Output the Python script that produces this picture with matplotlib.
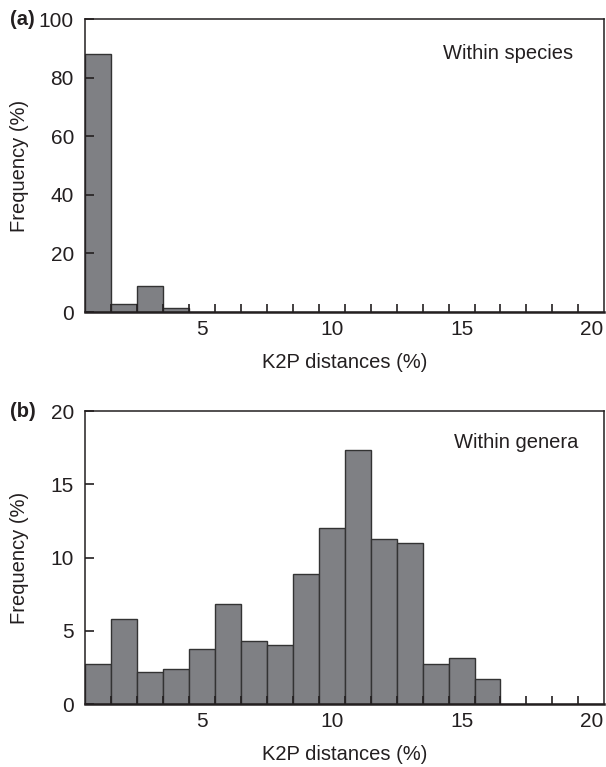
import numpy as np
import matplotlib.pyplot as plt
from matplotlib.ticker import FixedLocator

plt.rcParams['font.family'] = ['Liberation Sans', 'DejaVu Sans']

# Distance classes (bin centres, K2P %) and frequencies
dist = list(range(1, 21))
freq_species = [88, 2.7, 8.8, 1.2, 0, 0, 0, 0, 0, 0, 0, 0, 0, 0, 0, 0, 0, 0, 0, 0]
freq_genera = [2.72, 5.79, 2.2, 2.41, 3.75, 6.83, 4.31, 4.0, 8.85, 12.03,
               17.32, 11.24, 11.01, 2.72, 3.16, 1.70, 0, 0, 0, 0]

panels = [
    ("(a)", "Within species", freq_species, 100, [0, 20, 40, 60, 80, 100], (0.815, 0.884)),
    ("(b)", "Within genera", freq_genera, 20, [0, 5, 10, 15, 20], (0.83, 0.894)),
]
boxes = [[0.1403, 0.5932, 0.857, 0.382], [0.1403, 0.0821, 0.857, 0.382]]

ink = "#231f20"
fig = plt.figure(figsize=(6.06, 7.67), dpi=100)

for (tag, title, freq, ymax, yt, tpos), box in zip(panels, boxes):
    ax = fig.add_axes(box)
    ax.bar(dist, freq, width=1.0, color="#7f8084", edgecolor="#333333",
           linewidth=1.0, zorder=1)
    ax.set_xlim(0.5, 20.5)
    ax.set_ylim(0, ymax)
    ax.set_yticks(yt)
    ax.set_xticks([5, 10, 15, 20])
    ax.xaxis.set_minor_locator(FixedLocator(np.arange(1.5, 20, 1.0)))
    ax.tick_params(axis="x", which="major", length=0, pad=6,
                   labelsize=15, colors=ink)
    ax.tick_params(axis="x", which="minor", direction="in", length=6,
                   width=1.2, color=ink)
    ax.tick_params(axis="y", direction="in", length=6.5, width=1.2,
                   labelsize=15, colors=ink, pad=8)
    for s in ax.spines.values():
        s.set_color(ink)
        s.set_linewidth(1.1)
    ax.spines["bottom"].set_linewidth(1.8)
    ax.set_xlabel("K2P distances (%)", fontsize=14.5, color=ink, labelpad=10)
    ax.set_ylabel("Frequency (%)", fontsize=14.5, color=ink)
    ax.yaxis.set_label_coords(-0.108, 0.5)
    ax.text(tpos[0], tpos[1], title, transform=ax.transAxes, ha="center",
            va="center", fontsize=14.5, color=ink)
    ax.text(-0.145, 1.0, tag, transform=ax.transAxes, ha="left", va="center",
            fontsize=14.5, fontweight="bold", color=ink)

fig.savefig("out.png", dpi=100)
